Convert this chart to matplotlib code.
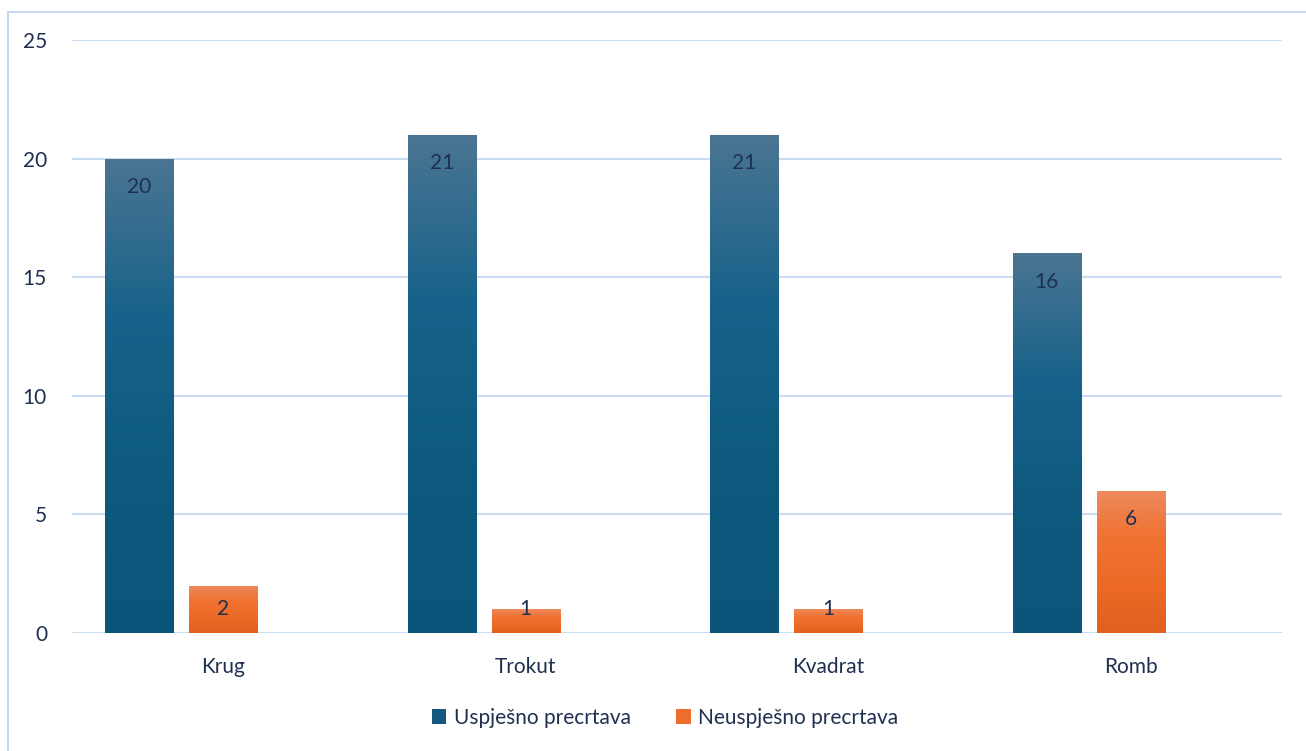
import matplotlib.pyplot as plt
import matplotlib.colors as mcolors
from matplotlib.patches import Patch, Rectangle
import numpy as np

plt.rcParams['font.family'] = ['Lato', 'DejaVu Sans']

# Data
categories = ["Krug", "Trokut", "Kvadrat", "Romb"]
uspjesno = [20, 21, 21, 16]
neuspjesno = [2, 1, 1, 6]
series_names = ["Uspješno precrtava", "Neuspješno precrtava"]

text_col = '#1f3050'
grid_col = '#cadcf0'
blue_grad = ['#4b7592', '#17628a', '#0d5a7e', '#0b557a']
orange_grad = ['#ee8a5e', '#f07232', '#ec6a26', '#e0601e']
fs = 15

fig = plt.figure(figsize=(13.06, 7.51), dpi=100)
ax = fig.add_axes([72/1306, 1 - 633/751, (1282 - 72)/1306, (633 - 40)/751])

x = np.arange(len(categories))
slot = 0.278
width = 0.225

def grad_bars(vals, offset, stops):
    bars = ax.bar(x + offset, vals, width, color='none', zorder=3)
    cmap = mcolors.LinearSegmentedColormap.from_list('g', stops)
    grad = np.linspace(0, 1, 256).reshape(-1, 1)
    for b in bars:
        x0, y0 = b.get_x(), b.get_y()
        w, h = b.get_width(), b.get_height()
        im = ax.imshow(grad, cmap=cmap, aspect='auto', origin='upper',
                       extent=[x0, x0 + w, y0, y0 + h], zorder=3)
        im.set_clip_path(b)
    return bars

grad_bars(uspjesno, -slot, blue_grad)
grad_bars(neuspjesno, 0, orange_grad)

# value labels near the top inside each bar
for off, vals in [(-slot, uspjesno), (0, neuspjesno)]:
    for xi, v in zip(x, vals):
        ypos = max(v - 1.2, 1.01)
        ax.text(xi + off, ypos, str(v), ha='center', va='center',
                fontsize=fs, color=text_col, zorder=4)

ax.set_xlim(-0.5, len(categories) - 0.5)
ax.set_ylim(0, 25)
ax.set_yticks(range(0, 26, 5))
ax.set_xticks(x)
ax.set_xticklabels(categories)
ax.tick_params(axis='x', length=0, pad=17, labelsize=fs, labelcolor=text_col)
ax.tick_params(axis='y', length=0, pad=18, labelsize=fs, labelcolor=text_col)

ax.grid(axis='y', color=grid_col, linewidth=1.5, zorder=0)
ax.set_axisbelow(True)
for s in ax.spines.values():
    s.set_visible(False)

handles = [Patch(facecolor='#15587d', label=series_names[0]),
           Patch(facecolor='#ec6d2e', label=series_names[1])]
leg = fig.legend(handles=handles, loc='center', bbox_to_anchor=(665/1306, 1 - 718/751),
                 ncol=2, frameon=False, fontsize=fs, handlelength=0.7, handleheight=0.7,
                 handletextpad=0.35, columnspacing=2.2)
for t in leg.get_texts():
    t.set_color(text_col)

# outer chart border (only left/top visible in reference)
fig.patches.append(Rectangle((8/1306, -0.05), 1.1, 1 - 12/751 + 0.05,
                             transform=fig.transFigure, fill=False,
                             edgecolor='#c9d9ed', linewidth=1.5))

fig.savefig('out.png', dpi=100)
